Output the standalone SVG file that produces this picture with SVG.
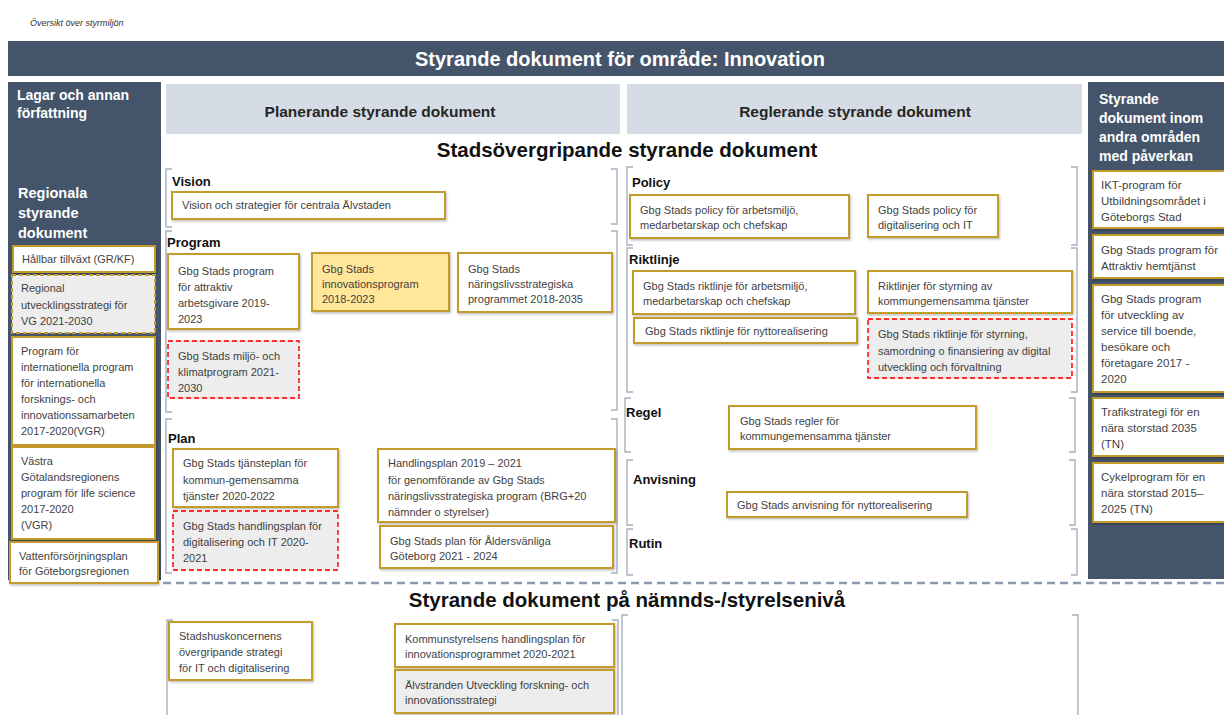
<svg xmlns="http://www.w3.org/2000/svg" width="1224" height="715" viewBox="0 0 1224 715">
<defs>
<filter id="sh" x="-5%" y="-5%" width="115%" height="125%">
<feDropShadow dx="1" dy="1.5" stdDeviation="1" flood-color="#000" flood-opacity="0.25"/>
</filter>
</defs>
<style>
.box{fill:#fff;stroke:#c29b2c;stroke-width:2;filter:url(#sh)}
.boxY{fill:#ffe699;stroke:#c29b2c;stroke-width:2;filter:url(#sh)}
.boxG{fill:#ededed;stroke:#c29b2c;stroke-width:2;filter:url(#sh)}
.boxGD{fill:#ededed;stroke:#c29b2c;stroke-width:2;stroke-dasharray:4 3}
.boxR{fill:#ededed;stroke:#ff2b2b;stroke-width:1.8;stroke-dasharray:5 3}
.t{font-family:"Liberation Sans",Arial,sans-serif;font-size:11px;fill:#3f3f3f}
.tr{font-family:"Liberation Sans",Arial,sans-serif;font-size:11.5px;fill:#3f3f3f}
.lbl{font-family:"Liberation Sans",Arial,sans-serif;font-size:13px;font-weight:bold;fill:#111}
.wh{font-family:"Liberation Sans",Arial,sans-serif;font-weight:bold;fill:#fff}
.big{font-family:"Liberation Sans",Arial,sans-serif;font-size:20.5px;font-weight:bold;fill:#111}
.hd{font-family:"Liberation Sans",Arial,sans-serif;font-size:15.5px;font-weight:bold;fill:#262626}
.br{fill:none;stroke:#a8b0bf;stroke-width:1.4}
.dark{fill:#44546a}
.light{fill:#d6dce5}
</style>

<text x="30" y="26" font-family="Liberation Sans, Arial, sans-serif" font-size="9" font-style="italic" fill="#333">Översikt över styrmiljön</text>

<g id="header">
<rect class="dark" x="8" y="41" width="1216" height="35"/>
<text class="wh" x="620" y="66" font-size="20" text-anchor="middle">Styrande dokument för område:  Innovation</text>
</g>

<g id="left-column">
<rect class="dark" x="8" y="82" width="153" height="498"/>
<text class="wh" font-size="14"><tspan x="17" y="100">Lagar och annan</tspan><tspan x="17" y="118">författning</tspan></text>
<text class="wh" font-size="14.5"><tspan x="18" y="198">Regionala</tspan><tspan x="18" y="218">styrande</tspan><tspan x="18" y="238">dokument</tspan></text>
</g>

<g id="planerande-header">
<rect class="light" x="166" y="84" width="454" height="50"/>
<text class="hd" x="380" y="117" text-anchor="middle">Planerande styrande dokument</text>
</g>
<g id="reglerande-header">
<rect class="light" x="627" y="84" width="455" height="50"/>
<text class="hd" x="855" y="117" text-anchor="middle">Reglerande styrande dokument</text>
</g>

<g id="right-column">
<rect class="dark" x="1088" y="82" width="136" height="497"/>
<text class="wh" font-size="14"><tspan x="1099" y="104">Styrande</tspan><tspan x="1099" y="123">dokument inom</tspan><tspan x="1099" y="142">andra områden</tspan><tspan x="1099" y="161">med påverkan</tspan></text>
</g>

<text class="big" x="627" y="157" text-anchor="middle">Stadsövergripande styrande dokument</text>
<text class="big" x="627" y="607" text-anchor="middle">Styrande dokument på nämnds-/styrelsenivå</text>

<g id="brackets">
<path class="br" d="M172 169H166V227H172"/>
<path class="br" d="M611 169H617V224H611"/>
<path class="br" d="M172 231H166V412H172"/>
<path class="br" d="M611 231H617V410H611"/>
<path class="br" d="M172 419H166V573H172"/>
<path class="br" d="M611 419H617V573H611"/>
<path class="br" d="M633 167H627V245H633"/>
<path class="br" d="M1071 167H1077V245H1071"/>
<path class="br" d="M633 248H627V392H633"/>
<path class="br" d="M1071 248H1077V392H1071"/>
<path class="br" d="M631 398H625V452H631"/>
<path class="br" d="M1069 398H1075V452H1069"/>
<path class="br" d="M633 460H627V525H633"/>
<path class="br" d="M1069 460H1075V525H1069"/>
<path class="br" d="M633 529H627V575H633"/>
<path class="br" d="M1071 529H1077V575H1071"/>
<path class="br" d="M173 620H167V715"/>
<path class="br" d="M612 620H618V715"/>
<path class="br" d="M628 615H622V715"/>
<path class="br" d="M1072 615H1078V715"/>
</g>

<line x1="163" y1="583" x2="1224" y2="583" stroke="#8c9ab0" stroke-width="2.5" stroke-dasharray="8 5"/>

<g id="labels">
<text class="lbl" x="172" y="186">Vision</text>
<text class="lbl" x="167" y="247">Program</text>
<text class="lbl" x="168" y="443">Plan</text>
<text class="lbl" x="632" y="187">Policy</text>
<text class="lbl" x="629" y="264">Riktlinje</text>
<text class="lbl" x="626" y="417">Regel</text>
<text class="lbl" x="633" y="484">Anvisning</text>
<text class="lbl" x="629" y="548">Rutin</text>
</g>

<!-- left regional boxes -->
<g id="n-hallbar"><rect class="box" x="13" y="246" width="142" height="26"/><text class="t" x="22" y="263">Hållbar tillväxt (GR/KF)</text></g>
<g id="n-regional"><rect class="boxGD" x="12" y="275" width="143" height="58"/><text class="t"><tspan x="21" y="292">Regional</tspan><tspan x="21" y="309">utvecklingsstrategi för</tspan><tspan x="21" y="325">VG 2021-2030</tspan></text></g>
<g id="n-internationella"><rect class="box" x="12" y="337" width="143" height="108"/><text class="t"><tspan x="21" y="355">Program för</tspan><tspan x="21" y="371">internationella program</tspan><tspan x="21" y="387">för internationella</tspan><tspan x="21" y="403">forsknings- och</tspan><tspan x="21" y="419">innovationssamarbeten</tspan><tspan x="21" y="435">2017-2020(VGR)</tspan></text></g>
<g id="n-vastra"><rect class="box" x="12" y="447" width="143" height="92"/><text class="t"><tspan x="21" y="465">Västra</tspan><tspan x="21" y="481">Götalandsregionens</tspan><tspan x="21" y="497">program för life science</tspan><tspan x="21" y="513">2017-2020</tspan><tspan x="21" y="529">(VGR)</tspan></text></g>
<g id="n-vatten"><rect class="box" x="10" y="542" width="148" height="41"/><text class="t"><tspan x="19" y="560">Vattenförsörjningsplan</tspan><tspan x="19" y="575">för  Göteborgsregionen</tspan></text></g>

<!-- planerande -->
<g id="n-vision"><rect class="box" x="172" y="192" width="273" height="27"/><text class="t" x="182" y="209">Vision och strategier för centrala Älvstaden</text></g>
<g id="n-prog-arbetsgivare"><rect class="box" x="168" y="254" width="131" height="75"/><text class="t"><tspan x="178" y="275">Gbg Stads program</tspan><tspan x="178" y="291">för attraktiv</tspan><tspan x="178" y="307">arbetsgivare 2019-</tspan><tspan x="178" y="323">2023</tspan></text></g>
<g id="n-prog-innovation"><rect class="boxY" x="312" y="253" width="137" height="58"/><text class="t"><tspan x="322" y="273">Gbg Stads</tspan><tspan x="322" y="288">innovationsprogram</tspan><tspan x="322" y="303">2018-2023</tspan></text></g>
<g id="n-prog-naringsliv"><rect class="box" x="458" y="253" width="154" height="59"/><text class="t"><tspan x="468" y="273">Gbg Stads</tspan><tspan x="468" y="288">näringslivsstrategiska</tspan><tspan x="468" y="303">programmet 2018-2035</tspan></text></g>
<g id="n-prog-miljo"><rect class="boxR" x="168" y="341" width="131" height="57"/><text class="t"><tspan x="178" y="360">Gbg Stads miljö- och</tspan><tspan x="178" y="376">klimatprogram 2021-</tspan><tspan x="178" y="392">2030</tspan></text></g>
<g id="n-plan-tjanste"><rect class="box" x="173" y="449" width="165" height="58"/><text class="t"><tspan x="183" y="467">Gbg Stads tjänsteplan för</tspan><tspan x="183" y="484">kommun-gemensamma</tspan><tspan x="183" y="500">tjänster 2020-2022</tspan></text></g>
<g id="n-plan-digital"><rect class="boxR" x="173" y="511" width="165" height="59"/><text class="t"><tspan x="183" y="530">Gbg Stads handlingsplan för</tspan><tspan x="183" y="546">digitalisering och IT 2020-</tspan><tspan x="183" y="562">2021</tspan></text></g>
<g id="n-plan-handling"><rect class="box" x="378" y="449" width="237" height="73"/><text class="t"><tspan x="388" y="467">Handlingsplan 2019 – 2021</tspan><tspan x="388" y="484">för genomförande av Gbg  Stads</tspan><tspan x="388" y="500">näringslivsstrategiska program (BRG+20</tspan><tspan x="388" y="516">nämnder o styrelser)</tspan></text></g>
<g id="n-plan-alders"><rect class="box" x="380" y="526" width="233" height="42"/><text class="t"><tspan x="390" y="545">Gbg Stads plan för Åldersvänliga</tspan><tspan x="390" y="560">Göteborg 2021 - 2024</tspan></text></g>

<!-- reglerande -->
<g id="n-pol-arbetsmiljo"><rect class="box" x="630" y="195" width="219" height="43"/><text class="t"><tspan x="640" y="214">Gbg Stads policy för arbetsmiljö,</tspan><tspan x="640" y="229">medarbetarskap och chefskap</tspan></text></g>
<g id="n-pol-digital"><rect class="box" x="868" y="195" width="130" height="42"/><text class="t"><tspan x="878" y="214">Gbg Stads policy för</tspan><tspan x="878" y="229">digitalisering och IT</tspan></text></g>
<g id="n-rik-arbetsmiljo"><rect class="box" x="633" y="271" width="222" height="43"/><text class="t"><tspan x="643" y="290">Gbg Stads riktlinje för arbetsmiljö,</tspan><tspan x="643" y="305">medarbetarskap och chefskap</tspan></text></g>
<g id="n-rik-styrning"><rect class="box" x="868" y="271" width="204" height="42"/><text class="t"><tspan x="878" y="290">Riktlinjer för styrning av</tspan><tspan x="878" y="305">kommungemensamma tjänster</tspan></text></g>
<g id="n-rik-nytto"><rect class="box" x="634" y="318" width="223" height="25"/><text class="t" x="645" y="335">Gbg Stads riktlinje för nyttorealisering</text></g>
<g id="n-rik-digital"><rect class="boxR" x="868" y="319" width="204" height="59"/><text class="t"><tspan x="878" y="338">Gbg Stads riktlinje för styrning,</tspan><tspan x="878" y="355">samordning o finansiering av digital</tspan><tspan x="878" y="371">utveckling och förvaltning</tspan></text></g>
<g id="n-regel"><rect class="box" x="729" y="406" width="247" height="43"/><text class="t"><tspan x="740" y="425">Gbg Stads regler för</tspan><tspan x="740" y="440">kommungemensamma tjänster</tspan></text></g>
<g id="n-anvisning"><rect class="box" x="727" y="492" width="240" height="25"/><text class="t" x="737" y="509">Gbg Stads anvisning för nyttorealisering</text></g>

<!-- right column boxes -->
<g id="n-ikt"><rect class="box" x="1093" y="171" width="135" height="57"/><text class="tr"><tspan x="1101" y="189">IKT-program för</tspan><tspan x="1101" y="205">Utbildningsområdet i</tspan><tspan x="1101" y="221">Göteborgs Stad</tspan></text></g>
<g id="n-hemtjanst"><rect class="box" x="1093" y="235" width="135" height="43"/><text class="tr"><tspan x="1101" y="254">Gbg Stads program för</tspan><tspan x="1101" y="270">Attraktiv hemtjänst</tspan></text></g>
<g id="n-service"><rect class="box" x="1093" y="285" width="135" height="107"/><text class="tr"><tspan x="1101" y="303">Gbg Stads program</tspan><tspan x="1101" y="319">för utveckling av</tspan><tspan x="1101" y="335">service till boende,</tspan><tspan x="1101" y="351">besökare och</tspan><tspan x="1101" y="367">företagare 2017 -</tspan><tspan x="1101" y="383">2020</tspan></text></g>
<g id="n-trafik"><rect class="box" x="1093" y="398" width="135" height="58"/><text class="tr"><tspan x="1101" y="416">Trafikstrategi för en</tspan><tspan x="1101" y="432">nära storstad 2035</tspan><tspan x="1101" y="448">(TN)</tspan></text></g>
<g id="n-cykel"><rect class="box" x="1093" y="463" width="135" height="59"/><text class="tr"><tspan x="1101" y="481">Cykelprogram för en</tspan><tspan x="1101" y="497">nära storstad  2015–</tspan><tspan x="1101" y="513">2025 (TN)</tspan></text></g>

<!-- nämnds-/styrelsenivå -->
<g id="n-stadshus"><rect class="box" x="169" y="622" width="143" height="58"/><text class="t"><tspan x="179" y="640">Stadshuskoncernens</tspan><tspan x="179" y="656">övergripande strategi</tspan><tspan x="179" y="672">för IT och digitalisering</tspan></text></g>
<g id="n-ks-handlingsplan"><rect class="box" x="395" y="624" width="219" height="43"/><text class="t"><tspan x="405" y="643">Kommunstyrelsens handlingsplan för</tspan><tspan x="405" y="658">innovationsprogrammet 2020-2021</tspan></text></g>
<g id="n-alvstranden"><rect class="boxG" x="395" y="670" width="219" height="43"/><text class="t"><tspan x="405" y="689">Älvstranden Utveckling forskning- och</tspan><tspan x="405" y="704">innovationsstrategi</tspan></text></g>
</svg>
